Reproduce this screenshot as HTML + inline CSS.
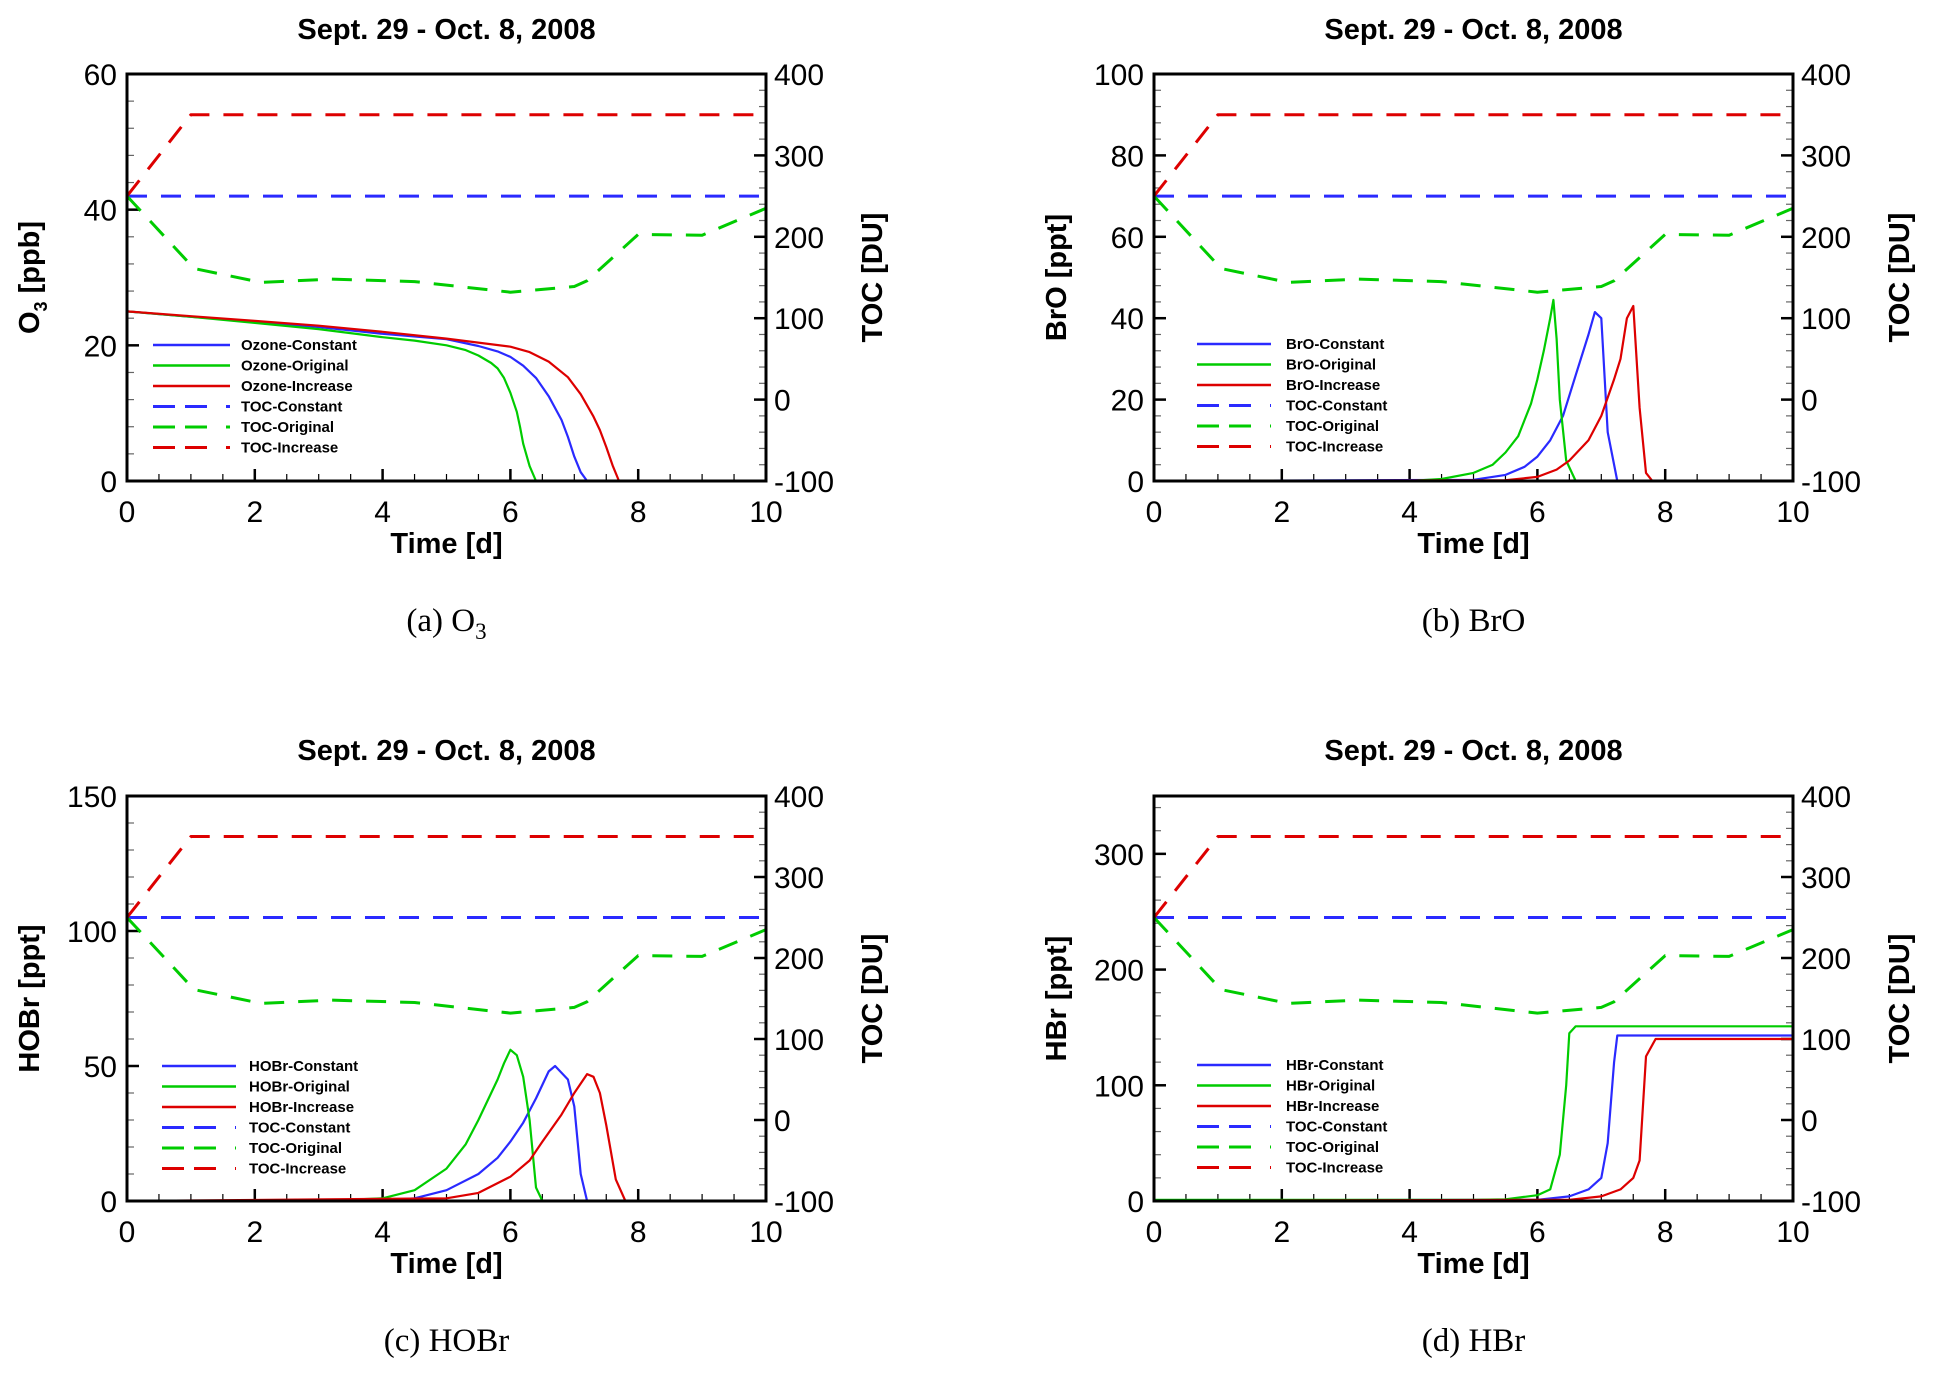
<!DOCTYPE html>
<html><head><meta charset="utf-8"><style>
body{margin:0;background:#fff}
svg text{font-family:"Liberation Sans",sans-serif}
</style></head><body>
<svg id="s" width="1935" height="1376" xmlns="http://www.w3.org/2000/svg"></svg>
<script>
// TOC data (shared)
const tocX=[0,1.05,2.1,3.2,4.5,6,7,7.2,8,9,10];
const tocOriginal=[250,161,144,148,145,132,139,146,203,202,235];
const tocConstX=[0,10];
const tocConstant=[250,250];
const tocIncX=[0,1,10];
const tocIncrease=[250,350,350];
// Panel a O3
const o3OrigX=[0,1,2,3,4,4.5,5,5.3,5.5,5.7,5.8,5.9,6.0,6.1,6.15,6.2,6.3,6.4,10];
const o3Orig=[25,24.2,23.3,22.4,21.2,20.7,20.0,19.3,18.5,17.4,16.6,15.2,13,10.2,8,5.5,2.2,0,0];
const o3ConstX=[0,1,2,3,4,5,5.5,5.8,6.0,6.2,6.4,6.6,6.8,6.9,7.0,7.1,7.2,10];
const o3Const=[25,24.2,23.5,22.7,21.7,20.9,19.9,19.1,18.3,17.0,15.2,12.5,9.0,6.5,3.6,1.3,0,0];
const o3IncX=[0,1,2,3,4,5,6,6.3,6.6,6.9,7.1,7.3,7.4,7.5,7.6,7.7,10];
const o3Inc=[25,24.3,23.6,22.9,22.0,21.0,19.8,19.0,17.6,15.3,12.8,9.5,7.5,5.0,2.3,0,0];
// Panel b BrO
const broOrigX=[0,4,4.5,5,5.3,5.5,5.7,5.8,5.9,6.0,6.1,6.2,6.25,6.3,6.35,6.45,6.6,10];
const broOrig=[0,0,0.5,2,4,7,11,15,19,25,32,40,44.5,35,20,5,0,0];
const broConstX=[0,5,5.5,5.8,6,6.2,6.4,6.6,6.8,6.9,7.0,7.1,7.25,10];
const broConst=[0,0.3,1.5,3.5,6,10,16,26,36,41.5,40,12,0,0];
const broIncX=[0,5.5,6,6.3,6.5,6.8,7,7.2,7.3,7.4,7.5,7.6,7.7,7.8,10];
const broInc=[0,0.2,1,2.8,5,10,16,25,30,40,43,18,2,0,0];
// Panel c HOBr
const hobrOrigX=[0,3,4,4.5,5,5.3,5.5,5.7,5.8,5.9,6.0,6.1,6.2,6.3,6.4,6.5,10];
const hobrOrig=[0,0,1,4,12,21,30,40,45,51,56,54,46,30,5,0,0];
const hobrConstX=[0,4,4.5,5,5.5,5.8,6,6.2,6.4,6.6,6.7,6.9,7.0,7.1,7.2,10];
const hobrConst=[0,0.3,1,4,10,16,22,29,38,48,50,45,35,10,0,0];
const hobrIncX=[0,5,5.5,6,6.3,6.5,6.8,7,7.2,7.3,7.4,7.5,7.65,7.8,10];
const hobrInc=[0,1,3,9,15,22,32,40,47,46,40,28,8,0,0];
// Panel d HBr
const hbrOrigX=[0,5,5.5,6,6.2,6.35,6.45,6.5,6.6,10];
const hbrOrig=[1,1,1.5,5,10,40,100,145,151,151];
const hbrConstX=[0,6,6.5,6.8,7.0,7.1,7.2,7.25,10];
const hbrConst=[0.5,1,4,10,20,50,120,143,143];
const hbrIncX=[0,6.5,7,7.3,7.5,7.6,7.7,7.85,10];
const hbrInc=[0.3,1,4,10,20,35,125,140,140];

const xTicks=[0,2,4,6,8,10];
const tocTicks=[400,300,200,100,0,-100];

const NS="http://www.w3.org/2000/svg";
const svg=document.getElementById('s');
function mk(tag,at,parent){const e=document.createElementNS(NS,tag);for(const k in at)e.setAttribute(k,at[k]);(parent||svg).appendChild(e);return e;}
const BLUE="#2a2aff",GREEN="#00cc00",RED="#dd0000";

const panels=[
 {id:'a',L:127,R:766,T:74,B:481,ymax:60,major:20,minor:4,ylab:'O3',sp:'Ozone',cap:'(a) O',capSub:'3',legX:[153,230,241],legY:345,
  s:[[o3ConstX,o3Const,BLUE],[o3OrigX,o3Orig,GREEN],[o3IncX,o3Inc,RED]],capY:631,titleY:39},
 {id:'b',L:1154,R:1793,T:74,B:481,ymax:100,major:20,minor:4,ylab:'BrO [ppt]',sp:'BrO',cap:'(b) BrO',legX:[1197,1271,1286],legY:344,
  s:[[broConstX,broConst,BLUE],[broOrigX,broOrig,GREEN],[broIncX,broInc,RED]],capY:631,titleY:39},
 {id:'c',L:127,R:766,T:796,B:1201,ymax:150,major:50,minor:10,ylab:'HOBr [ppt]',sp:'HOBr',cap:'(c) HOBr',legX:[162,236,249],legY:1066,
  s:[[hobrConstX,hobrConst,BLUE],[hobrOrigX,hobrOrig,GREEN],[hobrIncX,hobrInc,RED]],capY:1351,titleY:760},
 {id:'d',L:1154,R:1793,T:796,B:1201,ymax:350,major:100,minor:20,ylab:'HBr [ppt]',sp:'HBr',cap:'(d) HBr',legX:[1197,1271,1286],legY:1065,
  s:[[hbrConstX,hbrConst,BLUE],[hbrOrigX,hbrOrig,GREEN],[hbrIncX,hbrInc,RED]],capY:1351,titleY:760}
];

panels.forEach(p=>{
 const g=mk('g',{});
 
 
 const X=v=>p.L+(p.R-p.L)*v/10;
 const Y=v=>p.B-(p.B-p.T)*v/p.ymax;
 const YT=v=>p.B-(p.B-p.T)*(v+100)/500;
 const cx=(p.L+p.R)/2;
 let t=mk('text',{x:cx,y:p.titleY,'text-anchor':'middle','font-size':29,'font-weight':'bold'},g);t.textContent='Sept. 29 - Oct. 8, 2008';
 
 for(let v=0;v<=10.001;v+=0.5){const maj=Math.abs(v/2-Math.round(v/2))<1e-6;
  mk('line',{x1:X(v),x2:X(v),y1:p.B,y2:p.B-(maj?12:7),stroke:'#000','stroke-width':maj?2.5:1.2},g);}
 for(let v=0;v<=p.ymax+1e-6;v+=p.minor){const maj=Math.abs(v/p.major-Math.round(v/p.major))<1e-6;
  mk('line',{x1:p.L,x2:p.L+(maj?12:7),y1:Y(v),y2:Y(v),stroke:maj?'#000':'#666','stroke-width':maj?2.5:1.2},g);}
 for(let v=-100;v<=400;v+=20){const maj=v%100===0;
  mk('line',{x1:p.R,x2:p.R-(maj?12:7),y1:YT(v),y2:YT(v),stroke:maj?'#000':'#666','stroke-width':maj?2.5:1.2},g);}
 xTicks.forEach(v=>{const e=mk('text',{x:X(v),y:p.B+41,'text-anchor':'middle','font-size':30},g);e.textContent=v;
  });
 for(let v=0;v<=p.ymax+1e-6;v+=p.major){const e=mk('text',{x:p.L-10,y:Y(v)+11,'text-anchor':'end','font-size':30},g);e.textContent=v;
  }
 tocTicks.forEach(v=>{const e=mk('text',{x:p.R+8,y:YT(v)+11,'font-size':30},g);e.textContent=v;
  });
 t=mk('text',{x:cx,y:p.B+72,'text-anchor':'middle','font-size':29,'font-weight':'bold'},g);t.textContent='Time [d]';
 
 const lx=p.L-88, ly=(p.T+p.B)/2;
 t=mk('text',{x:lx,y:ly,'text-anchor':'middle','font-size':29,'font-weight':'bold',transform:`rotate(-90 ${lx} ${ly})`},g);
 if(p.ylab==='O3'){t.innerHTML='O<tspan font-size="18" dy="8">3</tspan><tspan dy="-8"> [ppb]</tspan>';}else t.textContent=p.ylab;
 
 const rx=p.R+116;
 t=mk('text',{x:rx,y:ly,'text-anchor':'middle','font-size':29,'font-weight':'bold',transform:`rotate(-90 ${rx} ${ly})`},g);t.textContent='TOC [DU]';
 
 t=mk('text',{x:cx,y:p.capY,'text-anchor':'middle','font-size':33},g);
 t.style.fontFamily='"Liberation Serif",serif';
 if(p.capSub)t.innerHTML=p.cap+'<tspan font-size="23" dy="8">'+p.capSub+'</tspan>';else t.textContent=p.cap;
 
 const path=(xs,ys,fy)=>xs.map((x,i)=>(i?'L':'M')+X(x).toFixed(1)+','+fy(ys[i]).toFixed(1)).join('');
 const tocs=[[tocConstX,tocConstant,BLUE,'toc-constant'],[tocX,tocOriginal,GREEN,'toc-original'],[tocIncX,tocIncrease,RED,'toc-increase']];
 tocs.forEach(s=>{const e=mk('path',{d:path(s[0],s[1],YT),fill:'none',stroke:s[2],'stroke-width':3,'stroke-dasharray':'20 14','stroke-linejoin':'round'},g);
  });
 const nm=['constant','original','increase'];
 p.s.forEach((s,i)=>{const e=mk('path',{d:path(s[0],s[1],Y),fill:'none',stroke:s[2],'stroke-width':2.2,'stroke-linejoin':'round'},g);
  });
 mk('rect',{x:p.L,y:p.T,width:p.R-p.L,height:p.B-p.T,fill:'none',stroke:'#000','stroke-width':3},g);
 const labels=[p.sp+'-Constant',p.sp+'-Original',p.sp+'-Increase','TOC-Constant','TOC-Original','TOC-Increase'];
 const cols=[BLUE,GREEN,RED,BLUE,GREEN,RED];
 labels.forEach((lb,i)=>{const y=p.legY+i*20.5;
  const le=mk('g',{},g);
  mk('line',{x1:p.legX[0],x2:p.legX[1],y1:y,y2:y,stroke:cols[i],'stroke-width':i<3?2.5:3,'stroke-dasharray':i<3?'none':'22 10 22 19 4 100'},le);
  const e=mk('text',{x:p.legX[2],y:y+5,'font-size':15,'font-weight':'bold'},le);e.textContent=lb;});
});
</script>
</body></html>
